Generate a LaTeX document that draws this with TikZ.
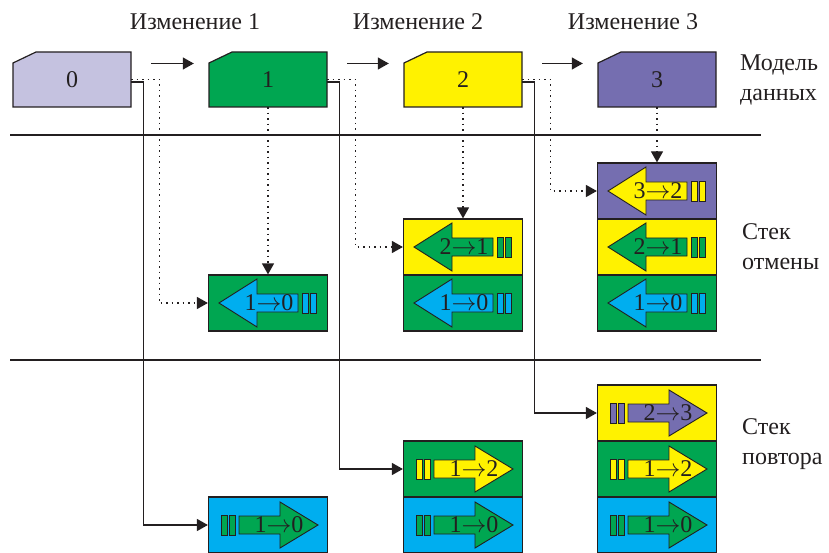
\documentclass[tikz,border=0pt]{standalone}
\usepackage{fontspec}
\setmainfont{Liberation Serif}
\usetikzlibrary{arrows.meta, calc, positioning}

\definecolor{ink}{HTML}{231F20}
\definecolor{stzero}{HTML}{C5C2E0}
\definecolor{stone}{HTML}{00A651}
\definecolor{sttwo}{HTML}{FFF200}
\definecolor{stthree}{HTML}{756EB0}
\definecolor{stsky}{HTML}{00AEEF}

\begin{document}
\begin{tikzpicture}[
		x=1pt, y=-1pt,
		model/.style={minimum width=118pt, minimum height=55pt, inner sep=0pt, font=\fontsize{24}{28}\selectfont, text=ink},
		boxline/.style={draw=ink, line width=1.2pt, line join=miter},
		cell/.style={draw=ink, line width=1.2pt, minimum width=119pt, minimum height=56pt, inner sep=0pt},
		glyph/.style={draw=ink, line width=0.9pt, line join=miter},
		tag/.style={font=\fontsize{24}{30}\selectfont, text=ink, inner sep=0pt, align=left},
		link/.style={draw=ink, line width=1.2pt, -{Triangle[length=11pt, width=12pt]}},
		trail/.style={link, dash pattern=on 1.5pt off 4pt},
		rule/.style={draw=ink, line width=1.1pt}
		]
		\useasboundingbox (0,0) rectangle (829,553);
		
		% ==========================================
		% 1. DATA MODEL STATES
		% ==========================================
		% Data format: state / x position / fill colour
		\foreach \i/\x/\clr in {0/72/stzero, 1/268/stone, 2/463/sttwo, 3/657/stthree} {
			\filldraw[boxline, fill=\clr] (\x-59,107) -- (\x-59,63) -- (\x-36,52) -- (\x+59,52) -- (\x+59,107) -- cycle;
			\node[model] (m-\i) at (\x,79.5) {\i};
		}
		\foreach \a/\b in {0/1, 1/2, 2/3} {
			\draw[link] ([xshift=20pt, yshift=16pt]m-\a.east) -- ([xshift=-15pt, yshift=16pt]m-\b.west);
		}
		
		% Column headings and row captions
		\node[tag] (chg-1) at (195,22) {Изменение 1};
		\node[tag] (chg-2) at (418,22) {Изменение 2};
		\node[tag] (chg-3) at (633,22) {Изменение 3};
		\node[tag, anchor=west] (cap-model) at (740,80) {Модель\\данных};
		\node[tag, anchor=west] (cap-undo) at (742,247) {Стек\\отмены};
		\node[tag, anchor=west] (cap-redo) at (742,444) {Стек\\повтора};
		
		% Separators between the three rows
		\draw[rule] (10,135) -- (761,135);
		\draw[rule] (10,360) -- (761,360);
		
		% ==========================================
		% 2. UNDO STACKS (arrows point back)
		% ==========================================
		% Data format: column / level / x / y / cell colour / arrow colour / from / to
		\foreach \c/\r/\x/\y/\bg/\fg/\a/\b in {
			1/1/268/303/stone/stsky/1/0,
			2/1/463/303/stone/stsky/1/0,
			2/2/463/247/sttwo/stone/2/1,
			3/1/657/303/stone/stsky/1/0,
			3/2/657/247/sttwo/stone/2/1,
			3/3/657/191/stthree/sttwo/3/2%
		} {
			\node[cell, fill=\bg] (u-\c-\r) at (\x,\y) {};
			\begin{scope}[shift={(u-\c-\r.center)}]
				\draw[glyph, fill=\fg] (-49,0) -- (-11,-24) -- (-11,-9) -- (30,-9) -- (30,9) -- (-11,9) -- (-11,24) -- cycle;
				\draw[glyph, fill=\fg] (34,-10) rectangle (40,10);
				\draw[glyph, fill=\fg] (42,-10) rectangle (48,10);
				\node[tag] at (1,0) {\a$\rightarrow$\b};
			\end{scope}
		}
		
		% ==========================================
		% 3. REDO STACKS (arrows point forward)
		% ==========================================
		\foreach \c/\r/\x/\y/\bg/\fg/\a/\b in {
			1/1/268/525/stsky/stone/1/0,
			2/1/463/525/stsky/stone/1/0,
			2/2/463/469/stone/sttwo/1/2,
			3/1/657/525/stsky/stone/1/0,
			3/2/657/469/stone/sttwo/1/2,
			3/3/657/413/sttwo/stthree/2/3%
		} {
			\node[cell, fill=\bg] (r-\c-\r) at (\x,\y) {};
			\begin{scope}[shift={(r-\c-\r.center)}]
				\draw[glyph, fill=\fg] (-47,-10) rectangle (-41,10);
				\draw[glyph, fill=\fg] (-39,-10) rectangle (-33,10);
				\draw[glyph, fill=\fg] (-29,-9) -- (12,-9) -- (12,-23) -- (50,0) -- (12,23) -- (12,9) -- (-29,9) -- cycle;
				\node[tag] at (11,0) {\a$\rightarrow$\b};
			\end{scope}
		}
		
		% ==========================================
		% 4. LINKS FROM EACH STATE TO THE STACKS
		% ==========================================
		\foreach \i/\j in {0/1, 1/2, 2/3} {
			% solid: state pushed on the redo stack
			\draw[link] ([yshift=-2.5pt]m-\i.east) -- ++(12,0) |- (r-\j-\j.west);
			% dotted: state pushed on the undo stack
			\draw[trail] (m-\i.east) -- ++(28,0) |- (u-\j-\j.west);
			\draw[trail] (m-\j.south) -- (u-\j-\j.north);
		}
		
	\end{tikzpicture}
\end{document}
